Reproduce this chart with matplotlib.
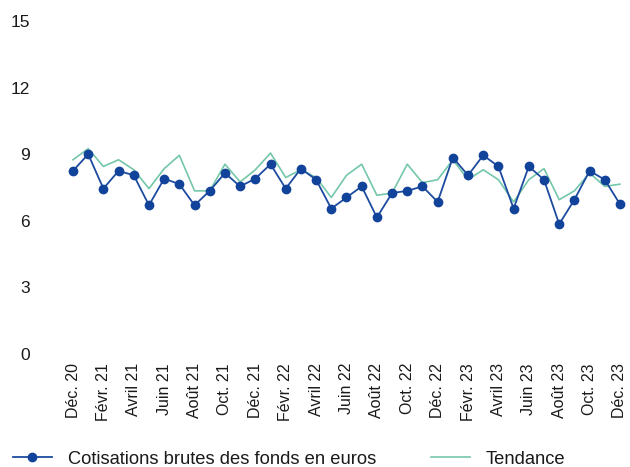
import matplotlib
matplotlib.use("Agg")
import matplotlib.pyplot as plt

plt.rcParams['font.family'] = ['Liberation Sans', 'DejaVu Sans']

tick_labels = ["Déc. 20", "Févr. 21", "Avril 21", "Juin 21", "Août 21", "Oct. 21",
               "Déc. 21", "Févr. 22", "Avril 22", "Juin 22", "Août 22", "Oct. 22",
               "Déc. 22", "Févr. 23", "Avril 23", "Juin 23", "Août 23", "Oct. 23",
               "Déc. 23"]

cotisations = [8.25, 9.0, 7.45, 8.25, 8.05, 6.7, 7.9, 7.65, 6.7, 7.35, 8.15, 7.55,
               7.9, 8.55, 7.45, 8.35, 7.85, 6.55, 7.05, 7.55, 6.15, 7.25, 7.35, 7.55,
               6.85, 8.85, 8.05, 8.95, 8.45, 6.55, 8.45, 7.85, 5.85, 6.95, 8.25, 7.85,
               6.75]

tendance = [8.75, 9.25, 8.45, 8.75, 8.3, 7.45, 8.35, 8.95, 7.35, 7.35, 8.55, 7.75,
            8.3, 9.05, 7.95, 8.3, 7.95, 7.05, 8.05, 8.55, 7.15, 7.25, 8.55, 7.72,
            7.85, 8.75, 7.85, 8.3, 7.85, 6.85, 7.85, 8.35, 6.95, 7.35, 8.15, 7.55,
            7.65]

W, H = 630, 467
fig = plt.figure(figsize=(W / 100, H / 100), dpi=100)
ax = fig.add_axes([60 / W, (H - 354) / H, 570 / W, 333 / H])

x = list(range(len(cotisations)))
ax.plot(x, tendance, color='#74c7a9', lw=1.2, label='Tendance', zorder=2)
ax.plot(x, cotisations, color='#1d4b9f', lw=1.3, marker='o', markersize=6,
        markerfacecolor='#12439b', markeredgecolor='#12439b',
        label='Cotisations brutes des fonds en euros', zorder=3, clip_on=False)

ax.set_xlim(-0.856, 36.66)
ax.set_ylim(0, 15)
ax.set_yticks([0, 3, 6, 9, 12, 15])
ax.set_xticks(range(0, len(cotisations), 2))
ax.set_xticklabels(tick_labels, rotation=90, fontsize=11.5)
ax.tick_params(axis='y', length=0, pad=21.6, labelsize=12.5, colors='#1a1a1a')
ax.tick_params(axis='x', length=0, pad=6.5, colors='#1a1a1a')
for sp in ax.spines.values():
    sp.set_visible(False)

h, l = ax.get_legend_handles_labels()
leg = fig.legend([h[1], h[0]], [l[1], l[0]], loc='center left',
                 bbox_to_anchor=(-4 / W, 1 - 459 / H),
                 ncol=2, frameon=False, fontsize=13.2, handlelength=2.15,
                 columnspacing=3.0, handletextpad=0.85, borderpad=0.4)
for t in leg.get_texts():
    t.set_color('#1a1a1a')

fig.savefig('out.png', dpi=100)
